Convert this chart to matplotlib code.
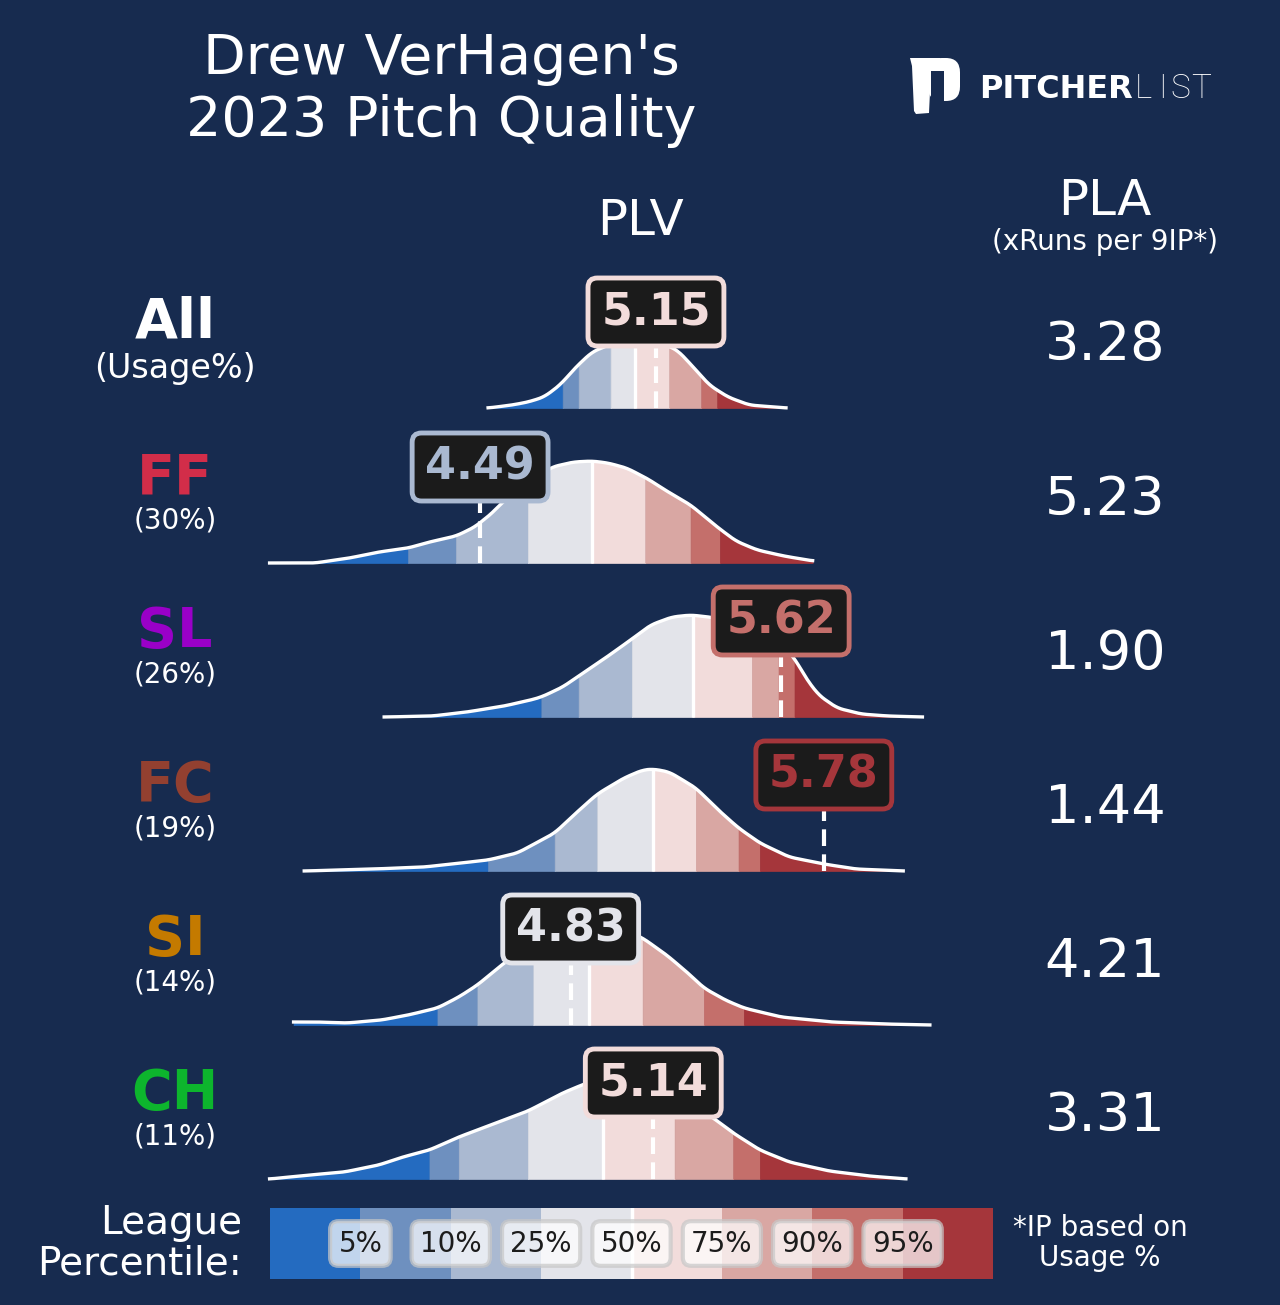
import numpy as np
import matplotlib
matplotlib.use('Agg')
import matplotlib.pyplot as plt
from matplotlib.patches import FancyBboxPatch, Rectangle, Polygon

plt.rcParams['font.family'] = ['DejaVu Sans']

BG = '#172b4f'
BOX_BG = '#1b1b1b'

# percentile band colours: <5, 5-10, 10-25, 25-50, 50-75, 75-90, 90-95, >95
BAND_COLORS = ['#246bc0', '#6e90bf', '#aab9d1', '#e3e4ea',
               '#f2dcdb', '#d9a7a3', '#c46f6b', '#a5363b']
PCT_LABELS = ['5%', '10%', '25%', '50%', '75%', '90%', '95%']

PITCHES = ['All', 'FF', 'SL', 'FC', 'SI', 'CH']
USAGE = ['(Usage%)', '(30%)', '(26%)', '(19%)', '(14%)', '(11%)']
PITCH_COLORS = ['white', '#d22d49', '#9a00c8', '#934030', '#c47a00', '#0db52d']
PLV = [5.15, 4.49, 5.62, 5.78, 4.83, 5.14]
PLA = [3.28, 5.23, 1.90, 1.44, 4.21, 3.31]

# league PLV cut points at 5/10/25/50/75/90/95th percentile
CUTS_ALL = [4.80, 4.86, 4.98, 5.07, 5.20, 5.32, 5.38]
CUTS_FF = [4.22, 4.40, 4.67, 4.91, 5.11, 5.28, 5.39]
CUTS_SL = [4.72, 4.86, 5.06, 5.29, 5.51, 5.61, 5.67]
CUTS_FC = [4.52, 4.77, 4.93, 5.14, 5.30, 5.46, 5.54]
CUTS_SI = [4.33, 4.48, 4.69, 4.90, 5.10, 5.33, 5.48]
CUTS_CH = [4.30, 4.41, 4.67, 4.95, 5.22, 5.44, 5.54]

# league PLV density (x = PLV, y = relative density)
ALL_X = [4.52, 4.61, 4.67, 4.73, 4.79, 4.85, 4.91, 5.00, 5.07, 5.15, 5.23, 5.29, 5.35, 5.42, 5.50, 5.64]
ALL_Y = [0.00, 0.03, 0.06, 0.11, 0.23, 0.41, 0.56, 0.66, 0.70, 0.67, 0.58, 0.41, 0.23, 0.11, 0.03, 0.00]
FF_X = [3.70, 3.87, 4.00, 4.11, 4.22, 4.30, 4.40, 4.47, 4.54, 4.57, 4.67, 4.76,
        4.84, 4.91, 4.97, 5.04, 5.12, 5.19, 5.28, 5.38, 5.45, 5.53, 5.63, 5.74]
FF_Y = [0.00, 0.00, 0.05, 0.11, 0.15, 0.21, 0.27, 0.36, 0.51, 0.60, 0.80, 0.96,
        1.01, 1.02, 1.00, 0.95, 0.84, 0.72, 0.58, 0.36, 0.22, 0.13, 0.07, 0.02]
SL_X = [4.13, 4.31, 4.44, 4.58, 4.68, 4.72, 4.80, 4.86, 4.96, 5.06, 5.13, 5.21,
        5.28, 5.35, 5.45, 5.54, 5.62, 5.67, 5.71, 5.76, 5.83, 5.92, 6.02, 6.15]
SL_Y = [0.00, 0.01, 0.05, 0.11, 0.17, 0.20, 0.30, 0.41, 0.59, 0.78, 0.92, 1.00,
        1.02, 1.00, 0.95, 0.86, 0.73, 0.59, 0.40, 0.22, 0.09, 0.03, 0.01, 0.00]
FC_X = [3.83, 4.09, 4.28, 4.52, 4.63, 4.70, 4.77, 4.85, 4.93, 5.03, 5.10,
        5.14, 5.20, 5.30, 5.38, 5.46, 5.54, 5.65, 5.78, 5.90, 6.08]
FC_Y = [0.00, 0.02, 0.04, 0.11, 0.18, 0.28, 0.38, 0.58, 0.77, 0.93, 1.01,
        1.02, 0.99, 0.83, 0.62, 0.43, 0.28, 0.14, 0.07, 0.02, 0.00]
SI_X = [3.79, 3.88, 3.99, 4.12, 4.22, 4.33, 4.41, 4.48, 4.58, 4.68, 4.79, 4.90,
        5.00, 5.10, 5.19, 5.27, 5.33, 5.41, 5.48, 5.62, 5.81, 6.01, 6.18]
SI_Y = [0.03, 0.03, 0.02, 0.05, 0.10, 0.17, 0.28, 0.40, 0.62, 0.80, 0.96, 1.03,
        0.99, 0.87, 0.70, 0.52, 0.37, 0.25, 0.17, 0.08, 0.03, 0.01, 0.00]
CH_X = [3.70, 3.85, 3.98, 4.11, 4.20, 4.30, 4.41, 4.55, 4.67, 4.80, 4.89,
        4.98, 5.07, 5.17, 5.28, 5.37, 5.44, 5.54, 5.65, 5.80, 5.95, 6.09]
CH_Y = [0.00, 0.04, 0.07, 0.14, 0.22, 0.29, 0.42, 0.56, 0.68, 0.86, 0.96,
        1.00, 1.00, 0.93, 0.77, 0.60, 0.46, 0.29, 0.17, 0.08, 0.03, 0.00]

CUTS = [CUTS_ALL, CUTS_FF, CUTS_SL, CUTS_FC, CUTS_SI, CUTS_CH]
DENS_X = [ALL_X, FF_X, SL_X, FC_X, SI_X, CH_X]
DENS_Y = [ALL_Y, FF_Y, SL_Y, FC_Y, SI_Y, CH_Y]

W, H = 1280, 1305
fig = plt.figure(figsize=(W / 100, H / 100), dpi=100, facecolor=BG)


def fx(x):
    return x / W


def fy(y):
    return 1 - y / H


def add_ax(x0, y0, x1, y1):
    ax = fig.add_axes([fx(x0), fy(y1), (x1 - x0) / W, (y1 - y0) / H])
    ax.set_axis_off()
    return ax


# title + headers
fig.text(fx(441), fy(90), "Drew VerHagen's\n2023 Pitch Quality", ha='center', va='center',
         color='white', fontsize=40, linespacing=1.2)
fig.text(fx(641), fy(221), 'PLV', ha='center', va='center', color='white', fontsize=36)
fig.text(fx(1105), fy(201), 'PLA', ha='center', va='center', color='white', fontsize=36)
fig.text(fx(1105), fy(242), '(xRuns per 9IP*)', ha='center', va='center', color='white', fontsize=20)

# logo
fig.patches.append(FancyBboxPatch((fx(928), fy(101)), (960 - 928) / W, 43 / H,
                                  boxstyle='round,pad=0,rounding_size=0.011',
                                  transform=fig.transFigure, fc='white', ec='none'))
fig.patches.append(Rectangle((fx(931), fy(106)), 13 / W, 35 / H, transform=fig.transFigure,
                             fc=BG, ec='none'))
fig.patches.append(Polygon([(fx(910), fy(58)), (fx(940), fy(58)), (fx(940), fy(71)),
                            (fx(931), fy(71)), (fx(929), fy(113)), (fx(916), fy(114)),
                            (fx(914), fy(111)), (fx(912), fy(66))], closed=True,
                           transform=fig.transFigure, fc='white', ec='none'))
fig.text(fx(979), fy(89), 'PITCHER', ha='left', va='center', color='white',
         fontsize=23, fontweight='bold')
for letter, lx in zip('LIST', [1135, 1158, 1170, 1191]):
    fig.text(fx(lx), fy(89), letter, ha='left', va='center', color='white',
             fontsize=24, family=['Roboto', 'DejaVu Sans'], fontweight='light')

# density rows
XLIM = (3.664, 6.216)
ROW_BASE = [408, 563, 717, 871, 1025, 1179]
for i, pitch in enumerate(PITCHES):
    base = ROW_BASE[i]
    ax = add_ax(260, base - 150, 940, base + 6)
    ax.set_xlim(*XLIM)
    ax.set_ylim(-0.06, 1.50)

    dx = np.array(DENS_X[i])
    dy = np.array(DENS_Y[i])
    grid = np.arange(dx[0], dx[-1], 0.002)
    dens = np.interp(grid, dx, dy)
    k = 25
    dens = np.convolve(np.pad(dens, k // 2, mode='edge'), np.ones(k) / k, mode='valid')
    cuts = np.array(CUTS[i])
    xs = np.sort(np.concatenate([grid, cuts]))
    ys = np.interp(xs, grid, dens)

    edges = [xs[0]] + list(cuts) + [xs[-1]]
    for b in range(8):
        m = (xs >= edges[b]) & (xs <= edges[b + 1])
        ax.fill_between(xs[m], 0, ys[m], color=BAND_COLORS[b], lw=0.5, zorder=1)
    ax.plot(xs, ys, color='white', lw=2.4, zorder=3)
    ax.vlines(cuts[3], 0, np.interp(cuts[3], xs, ys), color='white', lw=2.4, zorder=2)

    v = PLV[i]
    col = BAND_COLORS[int(np.searchsorted(cuts, v))]
    ax.vlines(v, 0, 0.96, color='white', lw=3, linestyles=(0, (4, 2)), zorder=2.5)
    bw, bh = 0.51, 0.68
    ax.add_patch(FancyBboxPatch((v - bw / 2, 0.96 - bh / 2), bw, bh,
                                boxstyle='round,pad=0,rounding_size=0.035',
                                mutation_aspect=2.665, fc=BOX_BG, ec=col, lw=3.5, zorder=5))
    ax.text(v, 0.96, f'{v:.2f}', ha='center', va='center', color=col,
            fontsize=32, fontweight='bold', zorder=6)

    # left labels and PLA
    fig.text(fx(175), fy(base - 85), pitch, ha='center', va='center',
             color=PITCH_COLORS[i], fontsize=40, fontweight='bold')
    fig.text(fx(175), fy(base - (40 if i == 0 else 43)), USAGE[i], ha='center', va='center',
             color='white', fontsize=24 if i == 0 else 20)
    fig.text(fx(1105), fy(base - 63), f'{PLA[i]:.2f}', ha='center', va='center',
             color='white', fontsize=39)

# league percentile legend
lax = add_ax(270, 1208, 993, 1279)
lax.set_xlim(0, 8)
lax.set_ylim(0, 1)
lax.bar(np.arange(8) + 0.5, 1, width=1, color=BAND_COLORS, lw=0)
lax.axvline(4, color='white', lw=2.5)
for k, lab in enumerate(PCT_LABELS):
    lax.text(k + 1, 0.5, lab, ha='center', va='center', color='#1c1c1c', fontsize=20,
             bbox=dict(boxstyle='round,pad=0.3', fc='white', ec='#c8c8c8', lw=3, alpha=0.72))

fig.text(fx(242), fy(1243), 'League\nPercentile:', ha='right', va='center', color='white',
         fontsize=28, linespacing=1.1)
fig.text(fx(1100), fy(1243), '*IP based on\nUsage %', ha='center', va='center', color='white',
         fontsize=20, linespacing=1.1)

fig.savefig('out.png', dpi=100, facecolor=BG)
